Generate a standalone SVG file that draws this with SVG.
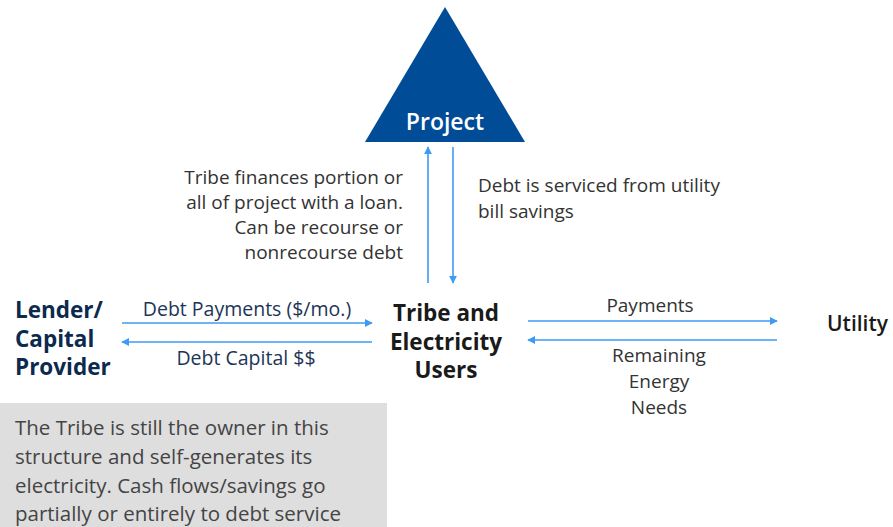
<svg xmlns="http://www.w3.org/2000/svg" width="893" height="527" viewBox="0 0 893 527">
  <defs>
    <marker id="head" viewBox="0 0 10 10" refX="9" refY="5" markerWidth="8" markerHeight="8" markerUnits="userSpaceOnUse" orient="auto">
      <path d="M0,0 L10,5 L0,10 z" fill="#3d9bf5"/>
    </marker>
    <style>
      .flow { stroke: #3d9bf5; stroke-width: 1.6; fill: none; marker-end: url(#head); }
      .lbl { font-family: "Open Sans", "Liberation Sans", sans-serif; font-size: 19px; fill: #333333; }
      .navy { fill: #1c3557; font-size: 19.5px; }
      .head { font-family: "Open Sans", "Liberation Sans", sans-serif; font-weight: bold; font-size: 22.5px; }
      .note { font-family: "Open Sans", "Liberation Sans", sans-serif; font-size: 20.5px; fill: #444444; }
    </style>
  </defs>
  <rect width="893" height="527" fill="#ffffff"/>

  <g id="project">
    <polygon points="445,7 525,142 365,142" fill="#004c97"/>
    <text x="445" y="130" text-anchor="middle" font-family="'Open Sans', 'Liberation Sans', sans-serif" font-size="23" font-weight="600" fill="#ffffff">Project</text>
  </g>

  <g id="lender">
    <text class="head" fill="#0b2a4e"><tspan x="15" y="318">Lender/</tspan><tspan x="15" y="347">Capital</tspan><tspan x="15" y="375">Provider</tspan></text>
  </g>

  <g id="tribe">
    <text class="head" fill="#1a1a1a" text-anchor="middle"><tspan x="446" y="321">Tribe and</tspan><tspan x="446" y="350">Electricity</tspan><tspan x="446" y="378">Users</tspan></text>
  </g>

  <g id="utility">
    <text x="827" y="331" font-family="'Open Sans', 'Liberation Sans', sans-serif" font-size="21" font-weight="600" fill="#1a1a1a">Utility</text>
  </g>

  <g id="connectors">
    <line class="flow" x1="428" y1="283" x2="428" y2="147"/>
    <line class="flow" x1="453" y1="147" x2="453" y2="283"/>
    <line class="flow" x1="122" y1="323" x2="372" y2="323"/>
    <line class="flow" x1="372" y1="342" x2="122" y2="342"/>
    <line class="flow" x1="528" y1="321" x2="777" y2="321"/>
    <line class="flow" x1="777" y1="340" x2="528" y2="340"/>
  </g>

  <g id="labels">
    <text class="lbl" text-anchor="end"><tspan x="403" y="184">Tribe finances portion or</tspan><tspan x="403" y="209">all of project with a loan.</tspan><tspan x="403" y="234">Can be recourse or</tspan><tspan x="403" y="259">nonrecourse debt</tspan></text>
    <text class="lbl"><tspan x="478" y="192">Debt is serviced from utility</tspan><tspan x="478" y="218">bill savings</tspan></text>
    <text class="lbl navy" x="247" y="316" text-anchor="middle">Debt Payments ($/mo.)</text>
    <text class="lbl navy" x="246" y="365" text-anchor="middle">Debt Capital $$</text>
    <text class="lbl" x="650" y="312" text-anchor="middle">Payments</text>
    <text class="lbl" text-anchor="middle"><tspan x="659" y="362">Remaining</tspan><tspan x="659" y="388">Energy</tspan><tspan x="659" y="414">Needs</tspan></text>
  </g>

  <g id="note">
    <rect x="0" y="403" width="387" height="124" fill="#dedede"/>
    <text class="note"><tspan x="15" y="435">The Tribe is still the owner in this</tspan><tspan x="15" y="464">structure and self-generates its</tspan><tspan x="15" y="493">electricity. Cash flows/savings go</tspan><tspan x="15" y="521">partially or entirely to debt service</tspan></text>
  </g>
</svg>
